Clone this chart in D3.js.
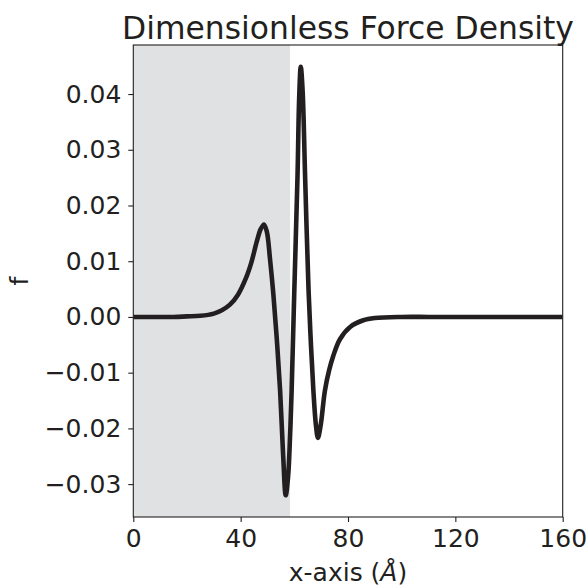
<!DOCTYPE html>
<html>
<head>
<meta charset="utf-8">
<script src="https://cdn.jsdelivr.net/npm/d3@7"></script>
<style>
  body { margin: 0; background: #fff; }
  text { font-family: "DejaVu Sans", sans-serif; fill: #231f20; }
</style>
</head>
<body>
<div id="chart"></div>
<script>
// values
const xValues = [0, 15, 20, 25, 30, 33, 36, 39, 42, 44, 46, 47.5, 48.7, 49.8, 50.9, 52.2, 53.5, 54.7, 55.8, 56.8,
  57.7, 58.4, 59.0, 60.0, 61.2, 61.8, 62.4, 63.1, 64.0, 65.3, 66.2, 67.1, 68.0, 68.8, 69.8, 71.4, 73.0, 74.5,
  77.0, 80.8, 85.7, 90, 100, 110, 120, 130, 140, 150, 160];
const fValues = [0, 0, 0.0001, 0.0002, 0.0006, 0.0012, 0.0022, 0.0040, 0.0070, 0.0098, 0.0135, 0.0158, 0.0166, 0.0152, 0.0106,
  0.0040, -0.0042, -0.0132, -0.0245, -0.0320, -0.0285, -0.0215, -0.0132, 0.0048, 0.0255, 0.0392, 0.0449, 0.0405,
  0.0255, 0.0048, -0.0050, -0.0132, -0.0192, -0.0217, -0.0195, -0.0132, -0.0095, -0.0070, -0.0040, -0.0018,
  -0.0006, -0.0002, 0, 0, 0, 0, 0, 0, 0];
const shadeRange = [0, 58.4];
const xTicks = [0, 40, 80, 120, 160];
const yTicks = [-0.03, -0.02, -0.01, 0, 0.01, 0.02, 0.03, 0.04];

const width = 588;
const height = 588;
const margin = { top: 45, right: 25.3, bottom: 71, left: 133.3 };

const svg = d3.select('#chart')
  .append('svg')
  .attr('width', width)
  .attr('height', height);

const x = d3.scaleLinear()
  .domain([0, 160])
  .range([margin.left, width - margin.right]);

const y = d3.scaleLinear()
  .domain([-0.0359, 0.0488])
  .range([height - margin.bottom, margin.top]);

// shaded region
svg.append('rect')
  .attr('x', x(shadeRange[0]))
  .attr('y', margin.top)
  .attr('width', x(shadeRange[1]) - x(shadeRange[0]))
  .attr('height', y.range()[0] - y.range()[1])
  .attr('fill', '#e0e1e3');

const data = xValues.map((d, i) => ({ x: d, f: fValues[i] }));

const line = d3.line()
  .x((d) => x(d.x))
  .y((d) => y(d.f))
  .curve(d3.curveCatmullRom.alpha(0.5));

svg.append('defs').append('clipPath')
  .attr('id', 'clip')
  .append('rect')
  .attr('x', margin.left)
  .attr('y', margin.top)
  .attr('width', x.range()[1] - x.range()[0])
  .attr('height', y.range()[0] - y.range()[1]);

svg.append('path')
  .datum(data)
  .attr('clip-path', 'url(#clip)')
  .attr('fill', 'none')
  .attr('stroke', '#231f20')
  .attr('stroke-width', 4.6)
  .attr('stroke-linejoin', 'round')
  .attr('d', line);

// axes
const fmt = (d) => d3.format('.2f')(d).replace('-', '\u2212');

function xAxis(g) {
  g.attr('transform', `translate(0,${height - margin.bottom})`)
    .call(d3.axisBottom(x).tickValues(xTicks).tickSize(5).tickPadding(7).tickFormat(d3.format('d')));
}

function yAxis(g) {
  g.attr('transform', `translate(${margin.left},0)`)
    .call(d3.axisLeft(y).tickValues(yTicks).tickSize(5).tickPadding(7).tickFormat(fmt));
}

const gx = svg.append('g').call(xAxis);
const gy = svg.append('g').call(yAxis);
[gx, gy].forEach((g) => {
  g.select('.domain').remove();
  g.selectAll('line').attr('stroke', '#231f20').attr('stroke-width', 1.1);
  g.selectAll('text').attr('font-size', '25px').attr('fill', '#231f20');
});
gx.selectAll('text').attr('dy', '0.71em');

// frame
svg.append('rect')
  .attr('x', margin.left)
  .attr('y', margin.top)
  .attr('width', x.range()[1] - x.range()[0])
  .attr('height', y.range()[0] - y.range()[1])
  .attr('fill', 'none')
  .attr('stroke', '#231f20')
  .attr('stroke-width', 1.1);

svg.append('text')
  .attr('x', (x.range()[0] + x.range()[1]) / 2)
  .attr('y', 39)
  .attr('text-anchor', 'middle')
  .attr('font-size', '31.4px')
  .text('Dimensionless Force Density');

const xLabel = svg.append('text')
  .attr('x', (x.range()[0] + x.range()[1]) / 2)
  .attr('y', 581)
  .attr('text-anchor', 'middle')
  .attr('font-size', '25px');
xLabel.append('tspan').text('x-axis (');
xLabel.append('tspan').attr('font-style', 'italic').text('\u00c5');
xLabel.append('tspan').text(')');

svg.append('text')
  .attr('transform', `translate(28,${(y.range()[0] + y.range()[1]) / 2}) rotate(-90)`)
  .attr('text-anchor', 'middle')
  .attr('font-size', '25px')
  .text('f');
</script>
</body>
</html>
